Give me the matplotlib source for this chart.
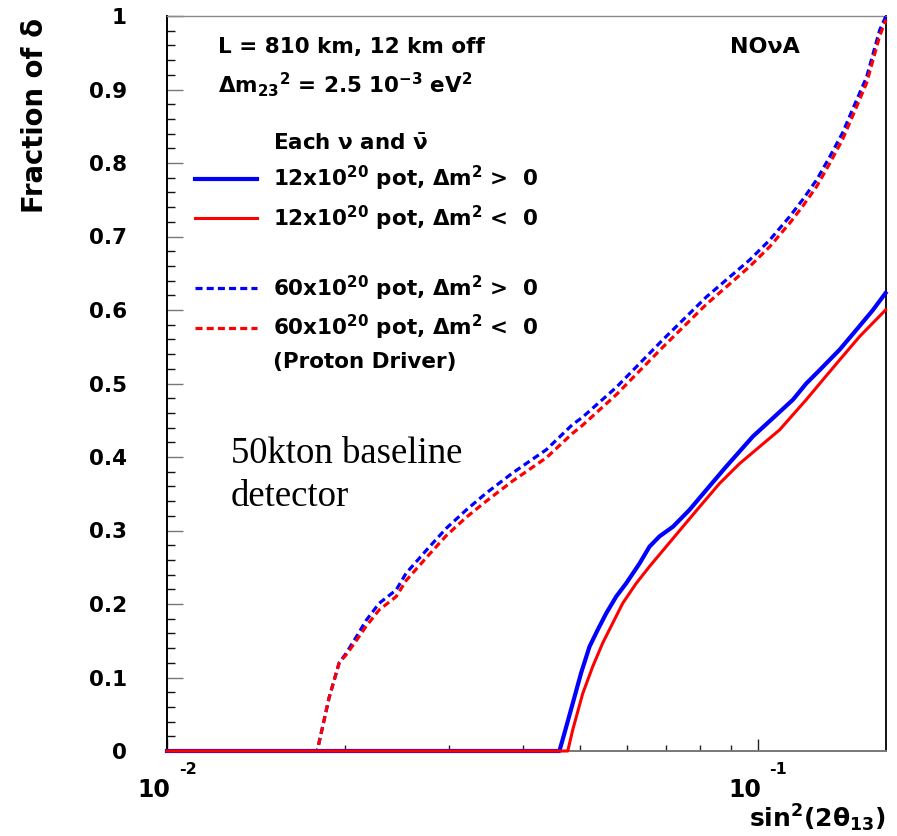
import matplotlib
matplotlib.use("Agg")
import matplotlib.pyplot as plt
from matplotlib.lines import Line2D
from matplotlib.ticker import FixedLocator, NullFormatter, FuncFormatter

# ---------------- data ----------------
# 12x10^20 pot, dm2 > 0 (solid blue)
x_12_pos = [0.010, 0.04618, 0.04709, 0.04865, 0.05025, 0.05193, 0.05363, 0.05540,
            0.05761, 0.05990, 0.06310, 0.06561, 0.06822, 0.07186, 0.07667, 0.08185,
            0.08849, 0.09820, 0.1062, 0.1148, 0.1209, 0.1273, 0.1377, 0.1470,
            0.1568, 0.1647]
y_12_pos = [0.0, 0.0, 0.024, 0.065, 0.106, 0.142, 0.165, 0.187,
            0.210, 0.228, 0.255, 0.278, 0.292, 0.305, 0.328, 0.355,
            0.387, 0.428, 0.453, 0.478, 0.500, 0.518, 0.546, 0.573,
            0.600, 0.623]

# 12x10^20 pot, dm2 < 0 (solid red)
x_12_neg = [0.010, 0.04771, 0.04865, 0.05057, 0.05259, 0.05468, 0.05685, 0.05911,
            0.06229, 0.06561, 0.07001, 0.07470, 0.07973, 0.08622, 0.09322, 0.1008,
            0.1090, 0.1209, 0.1290, 0.1377, 0.1489, 0.1647]
y_12_neg = [0.0, 0.0, 0.029, 0.078, 0.115, 0.147, 0.174, 0.201,
            0.228, 0.251, 0.278, 0.305, 0.332, 0.364, 0.391, 0.414,
            0.437, 0.478, 0.505, 0.532, 0.564, 0.600]

# 60x10^20 pot (Proton Driver), common x grid
x_60 = [0.010, 0.01796, 0.01882, 0.01957, 0.02011, 0.02091, 0.02175, 0.02287,
        0.02443, 0.02541, 0.02748, 0.02971, 0.03212, 0.03473, 0.03843, 0.04389,
        0.04858, 0.05051, 0.05768, 0.06902, 0.08196, 0.09692, 0.1048, 0.1133,
        0.1192, 0.1259, 0.1324, 0.1393, 0.1472, 0.1530, 0.1610, 0.1650]
y_60_pos = [0.0, 0.0, 0.073, 0.120, 0.133, 0.155, 0.178, 0.201,
            0.219, 0.242, 0.273, 0.303, 0.328, 0.351, 0.378, 0.410,
            0.444, 0.454, 0.495, 0.559, 0.618, 0.668, 0.695, 0.727,
            0.750, 0.777, 0.808, 0.841, 0.886, 0.917, 0.981, 1.000]
y_60_neg = [0.0, 0.0, 0.073, 0.120, 0.131, 0.150, 0.170, 0.192,
            0.210, 0.232, 0.263, 0.293, 0.318, 0.340, 0.367, 0.399,
            0.432, 0.443, 0.485, 0.549, 0.608, 0.659, 0.686, 0.718,
            0.741, 0.768, 0.799, 0.832, 0.877, 0.909, 0.973, 0.995]

x_major = [0.01, 0.1]
x_minor = [0.02, 0.03, 0.04, 0.05, 0.06, 0.07, 0.08, 0.09]
x_major_exp = ["-2", "-1"]
y_major = [0.0, 0.1, 0.2, 0.3, 0.4, 0.5, 0.6, 0.7, 0.8, 0.9, 1.0]
y_minor = [i * 0.02 for i in range(51)]

labels = ["Each ν and $\\bar{\\nu}$",
          "12x10$^{20}$ pot, Δm$^{2}$ >  0",
          "12x10$^{20}$ pot, Δm$^{2}$ <  0",
          " ",
          "60x10$^{20}$ pot, Δm$^{2}$ >  0",
          "60x10$^{20}$ pot, Δm$^{2}$ <  0",
          "(Proton Driver)"]

# ---------------- style ----------------
plt.rcParams["font.family"] = ["DejaVu Sans"]
plt.rcParams["font.weight"] = "bold"
plt.rcParams["mathtext.fontset"] = "custom"
plt.rcParams["mathtext.rm"] = "DejaVu Sans:bold"
plt.rcParams["mathtext.default"] = "regular"

W, H = 897, 836
fig = plt.figure(figsize=(W / 100, H / 100), dpi=100)
L, R, T, B = 167, 886, 16, 751
ax = fig.add_axes([L / W, 1 - B / H, (R - L) / W, (B - T) / H])

BLUE = "#0000ff"
RED = "#ff0000"
dash = (0, (2.2, 1.3))

l_bd, = ax.plot(x_60, y_60_pos, color=BLUE, lw=2.3, linestyle=dash, zorder=3, clip_on=False)
l_rd, = ax.plot(x_60, y_60_neg, color=RED, lw=2.3, linestyle=dash, zorder=3, clip_on=False)
l_bs, = ax.plot(x_12_pos, y_12_pos, color=BLUE, lw=3.0, zorder=3, clip_on=False)
l_rs, = ax.plot(x_12_neg, y_12_neg, color=RED, lw=2.2, zorder=3, clip_on=False)

ax.set_xscale("log")
ax.set_xlim(0.01, 0.165)
ax.set_ylim(0, 1)

ax.xaxis.set_major_locator(FixedLocator(x_major))
ax.xaxis.set_minor_locator(FixedLocator(x_minor))
ax.xaxis.set_major_formatter(NullFormatter())
ax.xaxis.set_minor_formatter(NullFormatter())
ax.yaxis.set_major_locator(FixedLocator(y_major))
ax.yaxis.set_minor_locator(FixedLocator(y_minor))
ax.yaxis.set_major_formatter(FuncFormatter(
    lambda v, p: "0" if abs(v) < 1e-9 else ("1" if abs(v - 1) < 1e-9 else f"{v:.1f}")))

ax.tick_params(axis="x", which="major", direction="in", length=9, width=1.0,
               color="#222222", top=False, bottom=True)
ax.tick_params(axis="x", which="minor", direction="in", length=4.5, width=1.0,
               color="#222222", top=False, bottom=True)
ax.tick_params(axis="y", which="major", direction="in", length=11.5, width=1.0,
               color="#777777", right=False, left=True, pad=29, labelsize=15.5)
ax.tick_params(axis="y", which="minor", direction="in", length=5.8, width=1.0,
               color="#111111", right=False, left=True)
for lab in ax.get_yticklabels():
    lab.set_fontweight("bold")

ax.spines["left"].set_color("black")
ax.spines["left"].set_linewidth(1.4)
ax.spines["right"].set_color("#111111")
ax.spines["right"].set_linewidth(1.4)
ax.spines["top"].set_color("#8a8a8a")
ax.spines["top"].set_linewidth(1.0)
ax.spines["bottom"].set_color("#777777")
ax.spines["bottom"].set_linewidth(1.4)

# x tick labels in ROOT style: "10" with detached exponent
for xv, ex in zip(x_major, x_major_exp):
    ax.annotate("10", xy=(xv, 0), xycoords=("data", "axes fraction"),
                xytext=(2.5, -19.5), textcoords="offset points",
                ha="right", va="top", fontsize=17, fontweight="bold")
    ax.annotate(ex, xy=(xv, 0), xycoords=("data", "axes fraction"),
                xytext=(8.5, -8), textcoords="offset points",
                ha="left", va="top", fontsize=11.5, fontweight="bold")

# axis titles
fig.text(35 / W, 1 - 18 / H, "Fraction of δ", rotation=90, ha="center", va="top",
         fontsize=19.8, fontweight="bold")
fig.text(886 / W, 1 - 834 / H, "sin$^{2}$(2θ$_{13}$)", ha="right", va="bottom",
         fontsize=18, fontweight="bold")

# annotations
fig.text(218 / W, 1 - 53 / H, "L = 810 km, 12 km off", ha="left", va="baseline",
         fontsize=15.5, fontweight="bold")
fig.text(218 / W, 1 - 93 / H, "Δm$_{23}$$^{2}$ = 2.5 10$^{-3}$ eV$^{2}$", ha="left",
         va="baseline", fontsize=15.5, fontweight="bold")
fig.text(730 / W, 1 - 53 / H, "NOνA", ha="left", va="baseline",
         fontsize=16, fontweight="bold")
fig.text(231 / W, 1 - 463 / H, "50kton baseline", ha="left", va="baseline",
         fontsize=26.5, fontweight="normal", family="Liberation Serif")
fig.text(231 / W, 1 - 506 / H, "detector", ha="left", va="baseline",
         fontsize=26.5, fontweight="normal", family="Liberation Serif")

# legend
blank = Line2D([], [], color="none")
handles = [blank, l_bs, l_rs, blank, l_bd, l_rd, blank]
leg = ax.legend(handles, labels, loc="upper left",
                bbox_to_anchor=(195 / W, 1 - 133 / H), bbox_transform=fig.transFigure,
                frameon=False, borderpad=0, borderaxespad=0,
                handlelength=2.88, handletextpad=0.74, labelspacing=0.48,
                prop={"size": 15.5, "weight": "bold"})

fig.savefig("out.png", dpi=100)
